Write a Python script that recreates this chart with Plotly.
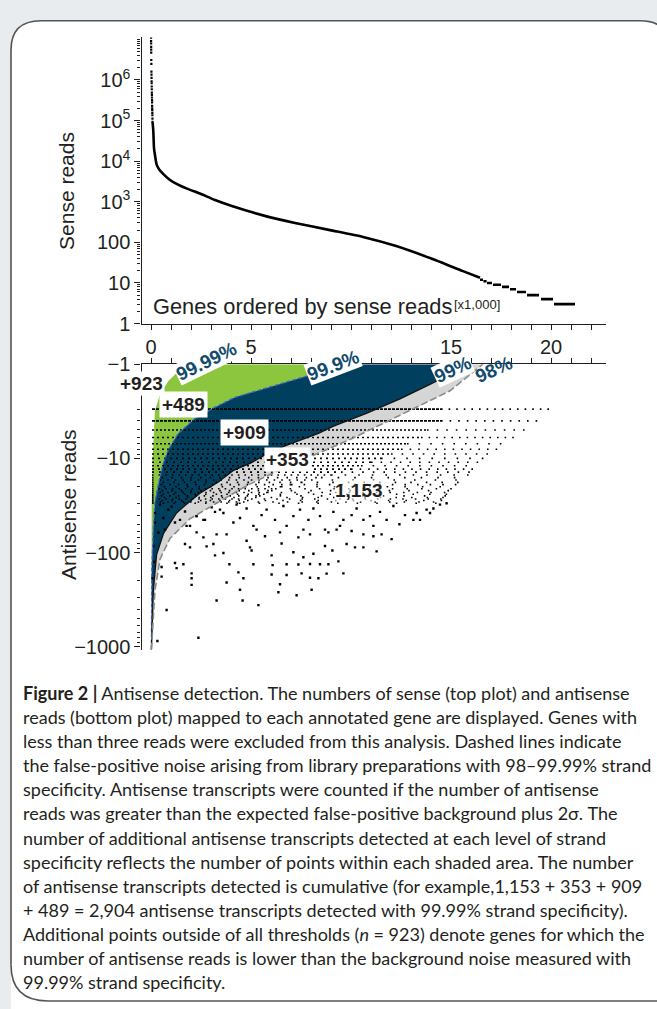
import plotly.graph_objects as go

W, H = 657, 1009

# ---------------- DATA ----------------
# Top plot: sense reads per gene, genes ordered by sense reads (k = genes x 1,000)
sense_top_k = [0.002, 0.004, 0.006, 0.008, 0.010, 0.012, 0.015, 0.018, 0.021, 0.024,
               0.027, 0.030, 0.033, 0.036, 0.039, 0.042, 0.045, 0.048, 0.051, 0.054,
               0.057, 0.060, 0.063, 0.066, 0.069, 0.072, 0.075]
sense_top_reads = [1.1e7, 9.1e6, 7.9e6, 6.5e6, 5.6e6, 4.7e6, 3.1e6, 2.5e6, 1.6e6, 1.35e6,
                   1.12e6, 9.3e5, 8.3e5, 6.9e5, 5.9e5, 4.9e5, 4.3e5, 3.7e5, 3.2e5, 2.8e5,
                   2.3e5, 2.0e5, 1.8e5, 1.55e5, 1.35e5, 1.12e5, 9.3e4]
sense_k = [0.08, 0.10, 0.117, 0.15, 0.2, 0.28, 0.4, 0.62, 0.9, 1.28, 1.8, 2.45, 3.2,
           4.12, 5.78, 7.2, 8.95, 10.6, 12.3, 13.95, 15.6, 16.45]
sense_reads = [9.0e4, 7.0e4, 5.3e4, 2.1e4, 1.4e4, 8300, 6300, 4800, 3600, 2750, 2100,
               1590, 1100, 760, 436, 300, 200, 136, 80, 41, 19.5, 13.4]
step_reads = [12, 11, 10, 9, 8, 7, 6, 5, 4, 3]
step_start = [16.45, 16.62, 16.8, 17.1, 17.55, 17.95, 18.3, 18.8, 19.5, 20.15]
step_end = [16.6, 16.78, 17.05, 17.5, 17.9, 18.25, 18.75, 19.4, 20.1, 21.2]

# Bottom plot: thresholds (antisense read magnitude vs gene rank)
a_k = [0.01, 0.02, 0.035, 0.08, 0.12, 0.2, 0.45, 0.87, 1.28, 2.0, 2.9]          # 99.99%
a_r = [1070, 100, 31, 10, 6.3, 3.1, 2.09, 1.51, 1.24, 1.07, 1.0]
b_k = [0.02, 0.04, 0.12, 0.2, 0.37, 0.6, 0.87, 1.37, 2.2, 3.2, 4.2, 5.87, 7.53, 9.8]  # 99.9%
b_r = [1070, 148, 52.5, 28.8, 18.6, 11.5, 8.05, 5.42, 3.78, 2.86, 2.25, 1.77, 1.40, 1.0]
c_k = [0.02, 0.06, 0.12, 0.28, 0.62, 1.28, 1.7, 2.45, 3.37, 4.1, 5.03, 5.8, 6.7, 8.37,
       9.1, 10.8, 12.45, 14.1, 15.8]                                               # 99%
c_r = [1070, 501, 251, 105, 63, 38, 31.6, 23.4, 17.8, 13.5, 11.1, 8.9, 7.36, 5.42, 4.57,
       3.31, 2.34, 1.58, 1.0]
d_k = [0.02, 0.1, 0.2, 0.45, 0.95, 1.95, 3.1, 4.78, 6.45, 8.2, 9.95, 11.6, 13.3, 14.95,
       16.6]                                                                       # 98%
d_r = [1070, 562, 251, 117.5, 70.8, 43.7, 31.6, 19.5, 13.2, 9.1, 6.3, 4.27, 2.86, 1.92, 1.0]

# Integer antisense-read rows (dense on the left, sparse toward the right)
row_reads = list(range(3, 31))
row_start = 0.05
row_dense_end = [14.5, 14.5, 13.8, 13.5, 12.8, 12.5, 12.0, 11.5, 11.0, 10.5, 10.0, 9.5,
                 9.0, 8.5, 8.0, 7.5, 7.0, 6.5, 6.2, 6.0, 5.8, 5.6, 5.4, 5.2, 5.0, 4.8,
                 4.6, 4.4]
row_end = [20.2, 19.45, 18.85, 18.35, 17.95, 17.6, 17.1, 16.7, 16.5, 16.3, 16.2, 16.1,
           16.0, 15.8, 15.7, 15.5, 15.4, 15.3, 15.2, 15.1, 15.05, 15.0, 14.9, 14.8, 14.7,
           14.6, 14.55, 14.5]

# Individual genes with many antisense reads
pts_k = [3.03, 3.45, 3.62, 4.28, 4.78, 5.12, 5.28, 5.53, 5.78, 6.2, 6.62, 7.12, 7.45, 7.87,
         8.12, 8.45, 8.7, 9.12, 9.62, 10.03, 10.28, 10.62, 10.95, 11.45, 11.78, 12.12,
         12.42, 12.7, 13.12, 13.45, 13.78, 14.12, 14.45, 14.78, 13.28, 1.45, 1.78, 2.28,
         2.62, 4.12, 4.45, 6.78, 7.62, 9.45, 11.12, 13.95,
         2.28, 2.62, 3.28, 3.78, 5.7, 6.45, 7.37, 7.95, 8.87, 9.28, 10.03, 10.62, 11.12,
         11.53, 12.03, 1.7, 1.95, 2.78, 3.12, 3.2, 3.62, 4.78, 4.95, 5.03, 6.03, 6.53, 7.12,
         7.62, 8.12, 8.7, 9.07, 9.78, 10.2, 10.62, 11.28,
         1.2, 1.62, 0.53, 3.92, 5.12, 6.08, 6.78, 7.37, 7.95, 8.45, 8.87, 9.37, 2.03, 2.03,
         4.37, 4.62, 6.03, 6.78, 7.53, 7.95, 8.37, 8.78, 9.62, 6.45,
         2.03, 3.78, 4.45, 4.58, 5.37, 6.37, 7.28, 8.03, 3.28, 0.78, 2.37, 0.32,
         0.45, 0.87, 0.2, 0.62, 1.03, 1.7, 2.28, 0.2, 0.37, 0.12, 0.17, 0.07, 0.7, 1.2,
         1.95, 2.7, 3.2, 0.53, 1.28]
pts_r = [33, 35, 38, 31, 34, 52, 57, 40, 35, 45, 32, 41, 35, 45,
         34, 41, 57, 37, 45, 40, 34, 45, 41, 37, 45, 32,
         50, 40, 45, 45, 35, 34, 31, 30, 38, 45, 52, 41,
         45, 48, 43, 52, 57, 52, 52, 38,
         61, 69, 64, 64, 67, 61, 69, 64, 61, 57, 59, 64, 67,
         64, 72, 81, 88, 86, 81, 107, 101, 75, 88, 95, 107, 80, 99,
         112, 103, 85, 95, 81, 88, 88, 97,
         129, 133, 142, 133, 133, 136, 133, 134, 132, 133, 133, 124, 166, 187,
         162, 187, 171, 173, 166, 185, 187, 167, 166, 217,
         220, 208, 248, 323, 361, 264, 284, 248, 323, 406, 800, 867,
         31, 35, 38, 43, 32.5, 36.6, 41, 48, 61.5, 85, 126, 187, 57, 48,
         52, 45, 37, 180, 146]

caption_lines = [
    "<b>Figure 2 |</b> Antisense detection. The numbers of sense (top plot) and antisense",
    "reads (bottom plot) mapped to each annotated gene are displayed. Genes with",
    "less than three reads were excluded from this analysis. Dashed lines indicate",
    "the false-positive noise arising from library preparations with 98–99.99% strand",
    "specificity. Antisense transcripts were counted if the number of antisense",
    "reads was greater than the expected false-positive background plus 2σ. The",
    "number of additional antisense transcripts detected at each level of strand",
    "specificity reflects the number of points within each shaded area. The number",
    "of antisense transcripts detected is cumulative (for example,1,153 + 353 + 909",
    "+ 489 = 2,904 antisense transcripts detected with 99.99% strand specificity).",
    "Additional points outside of all thresholds (<i>n</i> = 923) denote genes for which the",
    "number of antisense reads is lower than the background noise measured with",
    "99.99% strand specificity.",
]

# ---------------- STYLE / LAYOUT HELPERS ----------------
INK = "#231F20"
GREEN = "#8CC63F"
NAVY = "#013F5E"
LGRAY = "#D5D5D5"
LABEL_BLUE = "#134A6C"
PAGE = "#E9ECEF"
FONT = "Liberation Sans, Arial, sans-serif"


def px(x):
    return x / W


def py(y):
    return 1 - y / H


# plot geometry (pixels)
X0, X1 = 141.5, 606.0
K0_PX, PX_PER_K = 151.0, 20.0
xr = [(X0 - K0_PX) / PX_PER_K, (X1 - K0_PX) / PX_PER_K]
TOP_Y0, TOP_Y1 = 27.0, 319.5
BOT_Y0, BOT_Y1 = 361.0, 653.0

fig = go.Figure()

# --- top plot ---
fig.add_trace(go.Scatter(x=sense_k, y=sense_reads, mode="lines",
                         line=dict(color="black", width=2.6, shape="spline", smoothing=0.6),
                         xaxis="x", yaxis="y", hoverinfo="skip", showlegend=False))
sx, sy = [], []
for s0, s1, r in zip(step_start, step_end, step_reads):
    sx += [s0, s1, None]
    sy += [r, r, None]
fig.add_trace(go.Scatter(x=sx, y=sy, mode="lines", connectgaps=False,
                         line=dict(color="black", width=2.6), xaxis="x", yaxis="y",
                         hoverinfo="skip", showlegend=False))
fig.add_trace(go.Scatter(x=sense_top_k, y=sense_top_reads, mode="markers",
                         marker=dict(color="black", size=2.2, symbol="square"),
                         xaxis="x", yaxis="y", hoverinfo="skip", showlegend=False))


# --- bottom plot: shaded areas ---
def band(k_left, r_left, k_right, r_right, color):
    xs = list(k_left) + list(reversed(k_right))
    ys = list(r_left) + list(reversed(r_right))
    fig.add_trace(go.Scatter(x=xs, y=ys, mode="lines", fill="toself", fillcolor=color,
                             line=dict(width=0, color=color), xaxis="x2", yaxis="y2",
                             hoverinfo="skip", showlegend=False))


band(a_k, a_r, b_k, b_r, GREEN)
band(b_k, b_r, c_k, c_r, NAVY)
band(c_k, c_r, d_k, d_r, LGRAY)

# rows of points (dash patterns vary per row so the dots do not line up)
dense_gaps = [5, 8, 6, 9, 7, 10]
sparse_gaps = [11, 16, 13, 18, 12, 15, 19, 14]
for i, r in enumerate(row_reads):
    if r <= 4:
        dd = "3px,1px"
    elif r <= 8:
        dd = "2px,%dpx" % (2 + i % 2)
    elif r <= 14:
        dd = "2px,%dpx" % (3 + i % 3)
    else:
        dd = "1.6px,%dpx" % dense_gaps[i % 6]
    if r <= 6:
        sd = "1.6px,%dpx" % (6 + i % 3)
    elif r <= 14:
        sd = "1.6px,%dpx" % (7 + (i * 2) % 5)
    else:
        sd = "1.6px,%dpx" % sparse_gaps[i % 8]
    fig.add_trace(go.Scatter(x=[row_start, row_dense_end[i]], y=[r, r], mode="lines",
                             line=dict(color="black", width=1.6, dash=dd),
                             xaxis="x2", yaxis="y2", hoverinfo="skip", showlegend=False))
    fig.add_trace(go.Scatter(x=[row_dense_end[i], row_end[i]], y=[r, r], mode="lines",
                             line=dict(color="black", width=1.6, dash=sd),
                             xaxis="x2", yaxis="y2", hoverinfo="skip", showlegend=False))

fig.add_trace(go.Scatter(x=pts_k, y=pts_r, mode="markers",
                         marker=dict(color="black", size=2.4, symbol="square"),
                         xaxis="x2", yaxis="y2", hoverinfo="skip", showlegend=False))

# threshold lines
fig.add_trace(go.Scatter(x=b_k, y=b_r, mode="lines",
                         line=dict(color="#3F63C8", width=1.3, dash="4px,2px"),
                         xaxis="x2", yaxis="y2", hoverinfo="skip", showlegend=False))
fig.add_trace(go.Scatter(x=c_k, y=c_r, mode="lines",
                         line=dict(color="#111111", width=1.3),
                         xaxis="x2", yaxis="y2", hoverinfo="skip", showlegend=False))
fig.add_trace(go.Scatter(x=d_k, y=d_r, mode="lines",
                         line=dict(color="#8A8A8A", width=1.6, dash="7px,3px"),
                         xaxis="x2", yaxis="y2", hoverinfo="skip", showlegend=False))

# ---------------- AXES ----------------
axis_common = dict(showgrid=False, zeroline=False, showline=True, linecolor=INK,
                   linewidth=1.3, ticks="outside", tickcolor=INK, tickwidth=1.2,
                   tickfont=dict(family=FONT, size=20, color=INK))

minor_top = [m * 10 ** e for e in range(0, 7) for m in range(2, 10)] + [1e7]
minor_bot = [m * 10 ** e for e in range(0, 3) for m in range(2, 10)]

fig.update_layout(
    xaxis=dict(domain=[px(X0), px(X1)], range=xr, anchor="y", side="bottom",
               tickmode="array", tickvals=[0, 5, 15, 20], ticktext=["0", "5", "15", "20"],
               ticklen=5,
               minor=dict(tickmode="linear", tick0=0, dtick=1, ticks="outside", ticklen=5,
                          tickcolor=INK, tickwidth=1.2),
               **axis_common),
    yaxis=dict(domain=[py(TOP_Y1), py(TOP_Y0)], type="log",
               range=[0, (TOP_Y1 - TOP_Y0) / 41.5], anchor="x",
               tickmode="array",
               tickvals=[1, 10, 100, 1e3, 1e4, 1e5, 1e6],
               ticktext=["1", "10", "100", "10<sup>3</sup>", "10<sup>4</sup>",
                         "10<sup>5</sup>", "10<sup>6</sup>"],
               ticklen=6,
               minor=dict(tickmode="array", tickvals=minor_top, ticks="outside",
                          ticklen=3.5, tickcolor=INK, tickwidth=1),
               **axis_common),
    xaxis2=dict(domain=[px(X0), px(X1)], range=xr, anchor="y2", side="top",
                tickmode="array", tickvals=[0, 5, 10, 15, 20], showticklabels=False,
                ticklen=5,
                minor=dict(tickmode="linear", tick0=0, dtick=1, ticks="outside",
                           ticklen=5, tickcolor=INK, tickwidth=1.2),
                **axis_common),
    yaxis2=dict(domain=[py(BOT_Y1), py(BOT_Y0)], type="log",
                range=[(BOT_Y1 - BOT_Y0) / 96.33, 0], anchor="x2",
                tickmode="array", tickvals=[1, 10, 100, 1000],
                ticktext=["\u22121", "\u221210", "\u2212100", "\u22121000"],
                ticklen=6,
                minor=dict(tickmode="array", tickvals=minor_bot, ticks="outside",
                           ticklen=3.5, tickcolor=INK, tickwidth=1),
                **axis_common),
)

# ---------------- ANNOTATIONS ----------------
ann = []


def text(xp, yp, t, size=20, color=INK, angle=0, xanchor="center", bg=None, pad=1,
         family=FONT):
    d = dict(x=px(xp), y=py(yp), xref="paper", yref="paper", text=t, showarrow=False,
             xanchor=xanchor, yanchor="middle", textangle=angle,
             font=dict(family=family, size=size, color=color))
    if bg:
        d["bgcolor"] = bg
        d["borderpad"] = pad
    ann.append(d)


text(67, 184, "Sense reads", size=21, angle=-90)
text(69, 505, "Antisense reads", size=21, angle=-90)
text(151, 302, "Genes ordered by sense reads", size=21.8, xanchor="left")
text(452, 300, "[x1,000]", size=13, xanchor="left")

text(206, 358, "<b>99.99%</b>", size=19, color=LABEL_BLUE, angle=-26, bg="white", pad=0)
text(333, 362, "<b>99.9%</b>", size=19, color=LABEL_BLUE, angle=-21, bg="white", pad=0)
text(453, 367, "<b>99%</b>", size=19, color=LABEL_BLUE, angle=-25, bg="white", pad=0)
text(494, 367, "<b>98%</b>", size=19, color=LABEL_BLUE, angle=-24)

text(141, 381, "<b>+923</b>", size=19, color=INK, bg="white", pad=1)
text(183, 402, "<b>+489</b>", size=19, color=INK, bg="white", pad=2)
text(244, 431, "<b>+909</b>", size=19, color=INK, bg="white", pad=2)
text(287, 459, "<b>+353</b>", size=19, color=INK, bg="white", pad=1)
text(359, 490, "<b>1,153</b>", size=19, color=INK, bg="rgba(255,255,255,0.6)", pad=0)

for i, line in enumerate(caption_lines):
    text(21, 697 + 24.67 * i, line, size=18, xanchor="left", family="Lato, Roboto, sans-serif")

fig.update_layout(annotations=ann)

# ---------------- PANEL ----------------
def P(x, y):
    return "%.5f,%.5f" % (px(x), py(y))


panel = ("M " + P(11, 1060) + " L " + P(11, 40) + " Q " + P(11, 10) + " " + P(41, 10) +
         " L " + P(640, 10) + " Q " + P(670, 10) + " " + P(670, 40) +
         " L " + P(670, 1060) + " Z")
panel_border = ("M " + P(11, 975) + " L " + P(11, 40) + " Q " + P(11, 10) + " " + P(41, 10) +
                " L " + P(640, 10) + " Q " + P(670, 10) + " " + P(670, 40))
panel_bottom = ("M " + P(11, 975) + " Q " + P(11, 1012) + " " + P(48, 1012) + " L " + P(700, 1012))
fig.update_layout(shapes=[
    dict(type="path", path=panel, xref="paper", yref="paper", fillcolor="white",
         line=dict(width=0), layer="below"),
    dict(type="path", path=panel_border, xref="paper", yref="paper",
         line=dict(color="#555555", width=1.6), layer="below"),
    dict(type="path", path=panel_bottom, xref="paper", yref="paper",
         line=dict(color="#555555", width=1.6), layer="below"),
])

fig.update_layout(width=W, height=H, autosize=False,
                  margin=dict(l=0, r=0, t=0, b=0),
                  paper_bgcolor=PAGE, plot_bgcolor="rgba(0,0,0,0)",
                  showlegend=False)

page_css = ("document.documentElement.style.margin='0';"
            "document.documentElement.style.padding='0';"
            "document.documentElement.style.overflow='hidden';"
            "document.body.style.margin='0';document.body.style.padding='0';"
            "document.body.style.overflow='hidden';"
            "document.body.style.background='" + PAGE + "';")

fig.write_html("out.html", config={"displayModeBar": False}, post_script=page_css)
